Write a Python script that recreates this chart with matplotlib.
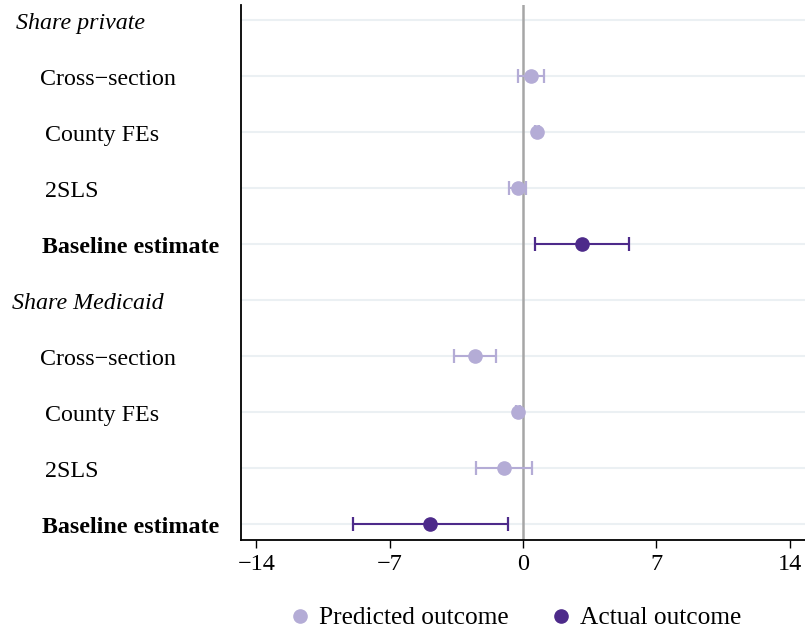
import numpy as np
import matplotlib
matplotlib.use("Agg")
import matplotlib.pyplot as plt
import matplotlib.transforms as mtransforms
from matplotlib.lines import Line2D

plt.rcParams['font.family'] = ['Liberation Serif', 'DejaVu Serif']

# rows from top to bottom; header rows carry no estimate
row_labels = ["Share private", "Cross\u2212section", "County FEs", "2SLS", "Baseline estimate",
              "Share Medicaid", "Cross\u2212section", "County FEs", "2SLS", "Baseline estimate"]
row_kind = ["header", "pred", "pred", "pred", "actual",
            "header", "pred", "pred", "pred", "actual"]
label_x_px = [16, 40, 45, 45, 42, 12, 40, 45, 45, 42]

est = [None, 0.44, 0.72, -0.28, 3.08, None, -2.52, -0.25, -1.00, -4.87]
ci_lo = [None, -0.25, 0.62, -0.72, 0.61, None, -3.64, -0.35, -2.45, -8.94]
ci_hi = [None, 1.12, 0.82, 0.17, 5.57, None, -1.43, -0.15, 0.47, -0.80]

xticks = [-14, -7, 0, 7, 14]

light = "#b4acd6"
dark = "#4d2a8a"

fig = plt.figure(figsize=(8.05, 6.33), dpi=100)
ax = fig.add_axes([241 / 805, 1 - 540 / 633, 1 - 241 / 805, (540 - 5) / 633])

n = len(row_labels)
ypos = np.arange(n)[::-1]

for y in ypos:
    ax.axhline(y, color="#ebf0f3", lw=1.5, zorder=0)
ax.axvline(0, color="#a6a6a6", lw=1.8, zorder=1)

for i in range(n):
    if row_kind[i] == "header":
        continue
    col = dark if row_kind[i] == "actual" else light
    e = est[i]
    ax.errorbar(e, ypos[i], xerr=[[e - ci_lo[i]], [ci_hi[i] - e]], fmt='o', color=col,
                ms=9.5, capsize=5, elinewidth=1.5, capthick=1.6, zorder=3)

# row labels sit left of the axes, x in figure pixels, nudged down to the row line
trans = mtransforms.blended_transform_factory(fig.transFigure, ax.transData)
trans = trans + mtransforms.ScaledTranslation(0, -3 / 100, fig.dpi_scale_trans)
for i in range(n):
    kw = dict(fontsize=17.3, va='center', ha='left', transform=trans)
    if row_kind[i] == "header":
        kw['style'] = 'italic'
    elif row_kind[i] == "actual":
        kw['weight'] = 'bold'
    ax.text(label_x_px[i] / 805, ypos[i], row_labels[i], **kw)

ax.set_xlim(-14.8, 14.8)
ax.set_ylim(-0.28, n - 1 + 0.27)
ax.set_xticks(xticks)
ax.set_xticklabels([f"\u2212{abs(t)}" if t < 0 else str(t) for t in xticks])
ax.set_yticks([])
ax.tick_params(axis='x', direction='out', length=6, width=1, labelsize=17.5, pad=4)
for s in ['top', 'right']:
    ax.spines[s].set_visible(False)
for s in ['left', 'bottom']:
    ax.spines[s].set_linewidth(1.3)

handles = [Line2D([], [], marker='o', ls='', color=light, ms=9.5),
           Line2D([], [], marker='o', ls='', color=dark, ms=9.5)]
fig.legend(handles, ["Predicted outcome", "Actual outcome"], loc='center',
           bbox_to_anchor=(514 / 805, 1 - 618 / 633), ncol=2, frameon=False,
           fontsize=18.3, handletextpad=0.25, columnspacing=1.55, handlelength=1.0)

fig.savefig("out.png", dpi=100)
